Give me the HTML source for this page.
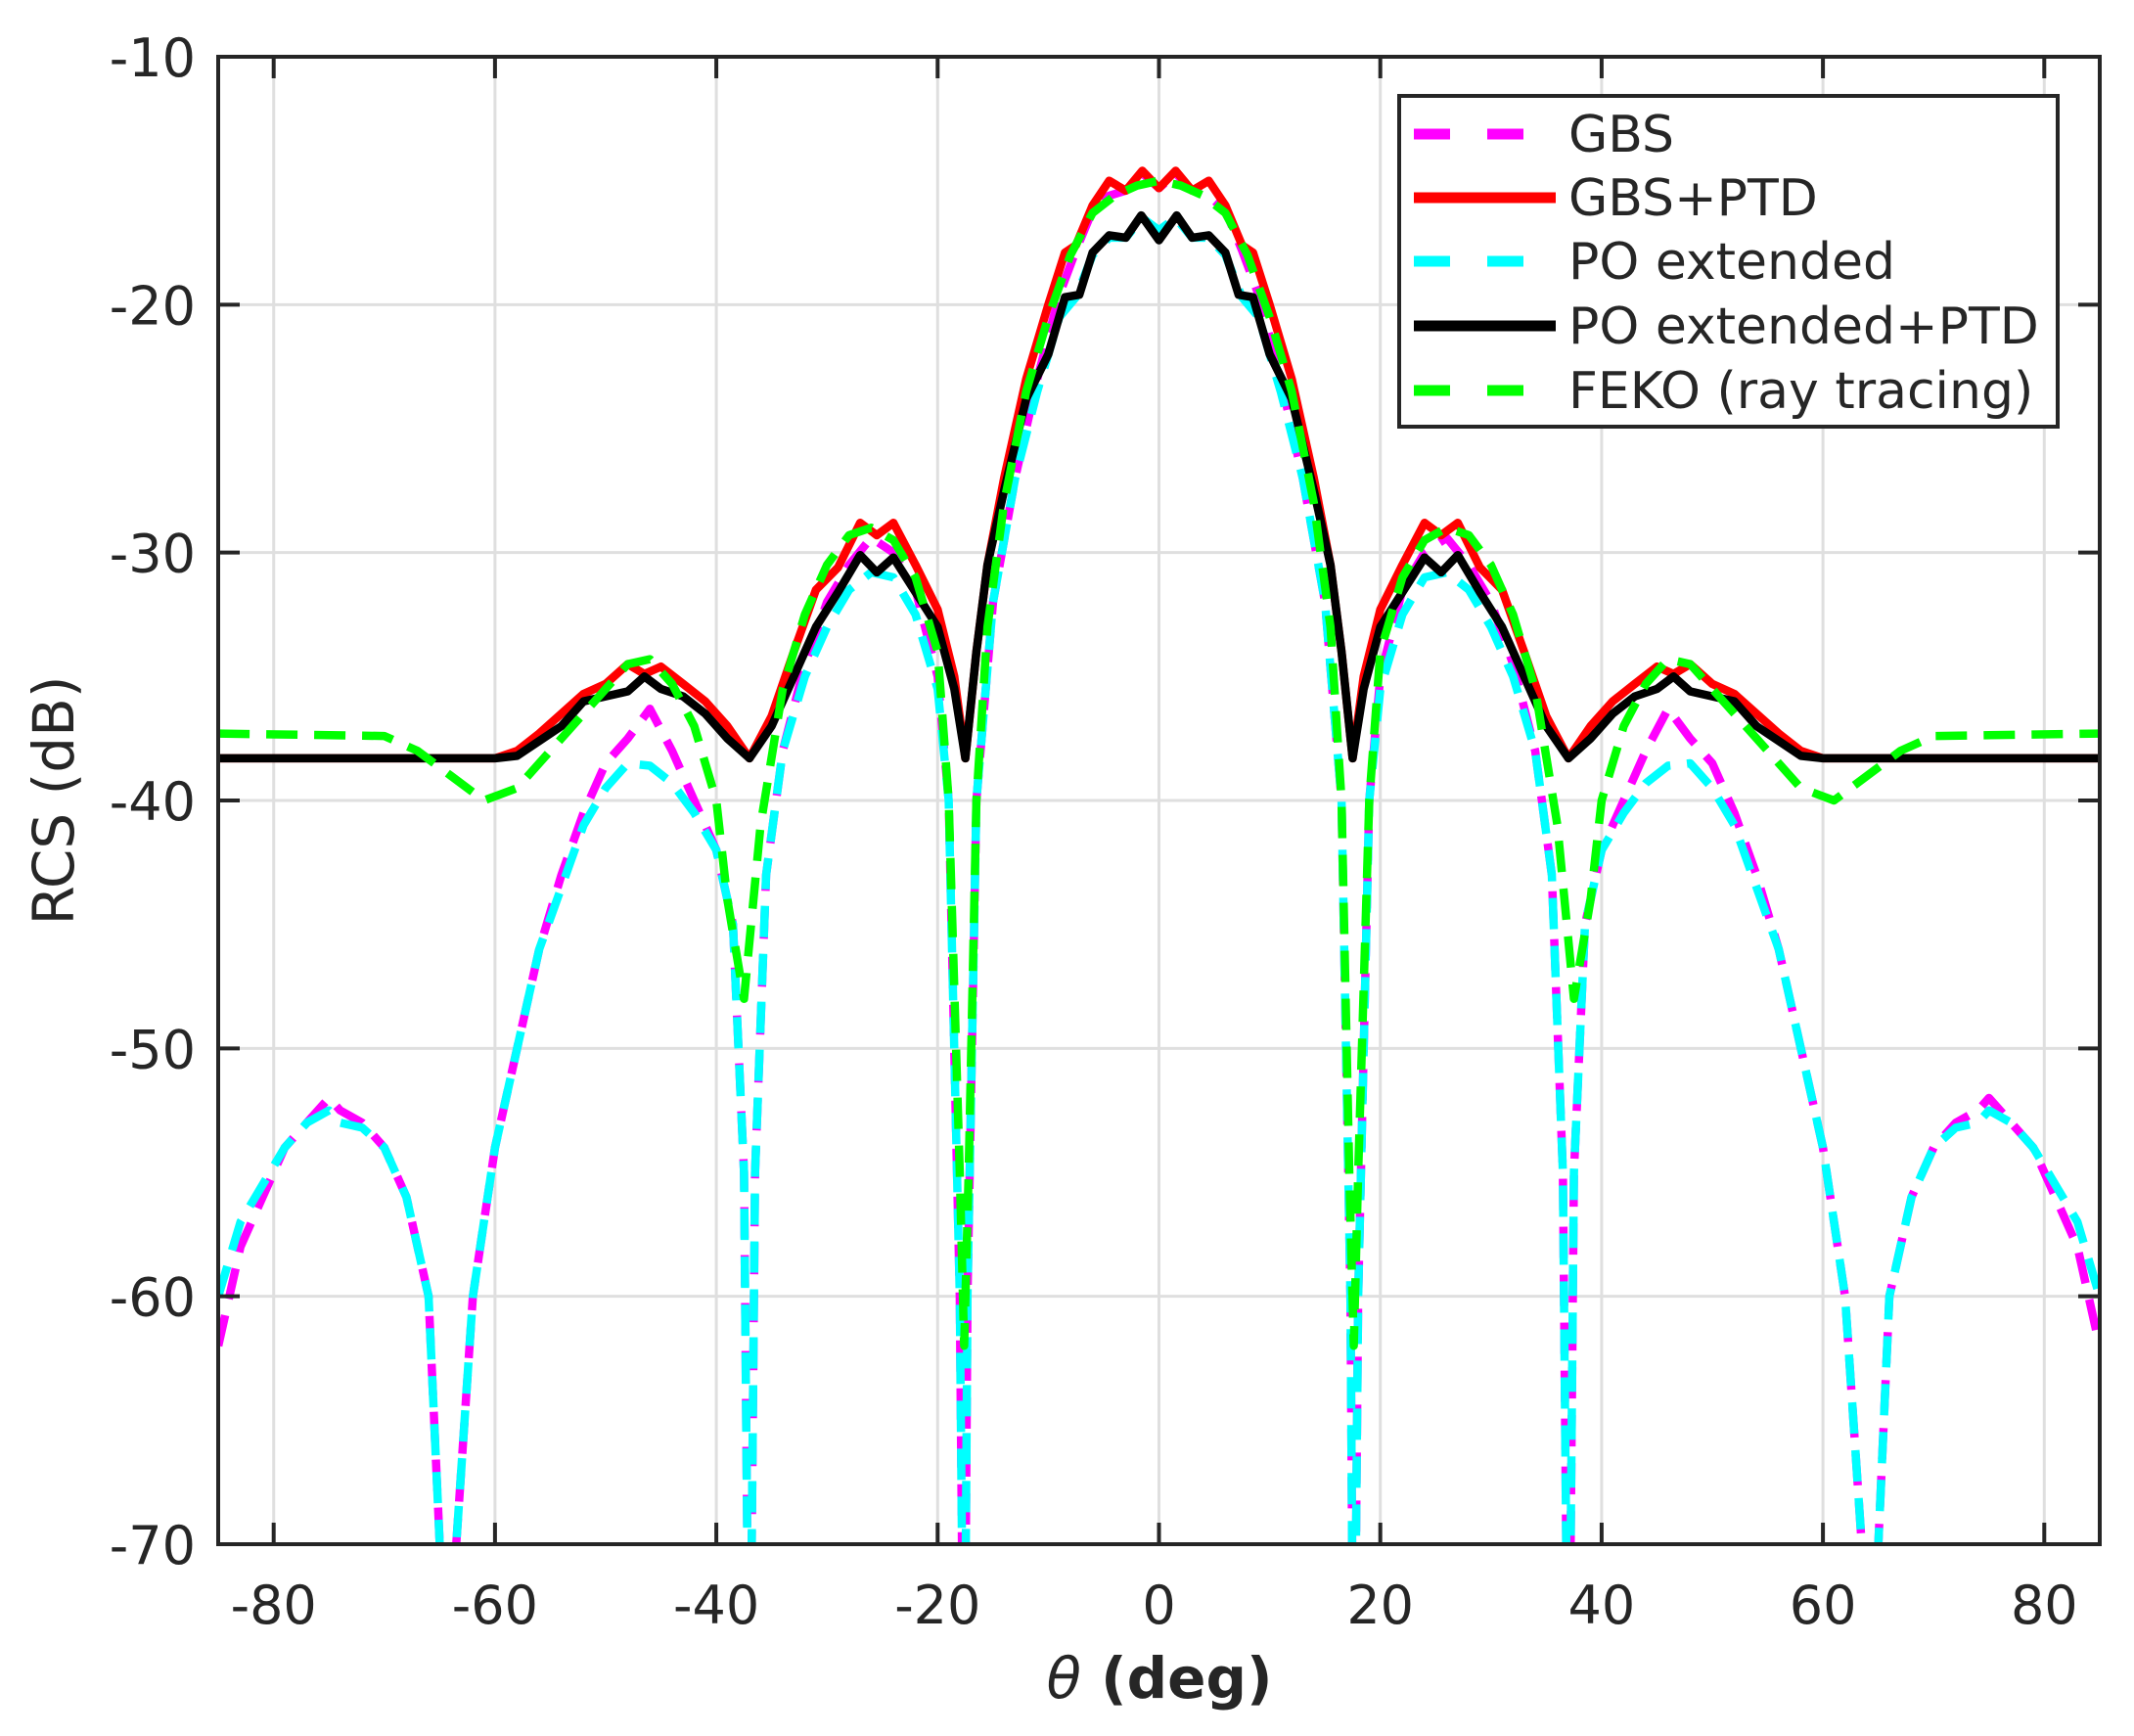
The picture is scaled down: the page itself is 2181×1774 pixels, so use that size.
<!DOCTYPE html>
<html><head><meta charset="utf-8"><style>
html,body{margin:0;padding:0;background:#fff}
svg{display:block}
text{font-family:"DejaVu Sans","Liberation Sans",sans-serif;fill:#262626}
</style></head><body>
<svg id="s" width="2181" height="1774" viewBox="0 0 2181 1774" xmlns="http://www.w3.org/2000/svg">
<defs><clipPath id="c"><rect x="223" y="58" width="1923" height="1520"/></clipPath></defs>
<rect x="0" y="0" width="2181" height="1774" fill="#fff"/>
<g id="grid" stroke="#dfdfdf" stroke-width="3"></g>
<g id="curves" clip-path="url(#c)" fill="none" stroke-linejoin="round"></g>
<rect x="223" y="58" width="1923" height="1520" fill="none" stroke="#262626" stroke-width="4"/>
<g id="ticks" stroke="#262626" stroke-width="4"></g>
<g id="labels" font-size="54"></g>
<text x="1185" y="1735" font-size="58" text-anchor="middle" font-weight="bold"><tspan font-style="italic" font-weight="normal">θ</tspan> (deg)</text>
<text transform="translate(75,818) rotate(-90)" font-size="58" text-anchor="middle">RCS (dB)</text>
<g>
<rect x="1430" y="98" width="673" height="338" fill="#fff" stroke="#262626" stroke-width="4"/>
<line x1="1445" y1="137" x2="1590" y2="137" stroke="#ff00ff" stroke-width="11" stroke-dasharray="37,38"/>
<line x1="1445" y1="202" x2="1590" y2="202" stroke="#ff0000" stroke-width="11"/>
<line x1="1445" y1="267" x2="1590" y2="267" stroke="#00ffff" stroke-width="11" stroke-dasharray="37,38"/>
<line x1="1445" y1="333" x2="1590" y2="333" stroke="#000" stroke-width="11"/>
<line x1="1445" y1="399" x2="1590" y2="399" stroke="#00ff00" stroke-width="11" stroke-dasharray="37,38"/>
<g font-size="52" fill="#000">
<text x="1603" y="155" fill="#000">GBS</text>
<text x="1603" y="220" fill="#000">GBS+PTD</text>
<text x="1603" y="285" fill="#000">PO extended</text>
<text x="1603" y="351" fill="#000">PO extended+PTD</text>
<text x="1603" y="417" fill="#000">FEKO (ray tracing)</text>
</g></g>
</svg>
<script>
var NS="http://www.w3.org/2000/svg";
function X(t){return 1184.5+t*11.31;}
function Y(d){return 58+(-10-d)*25.333;}
function el(p,n,a){var e=document.createElementNS(NS,n);for(var k in a)e.setAttribute(k,a[k]);p.appendChild(e);return e;}
var g=document.getElementById('grid'),tk=document.getElementById('ticks'),lb=document.getElementById('labels');
for(var t=-80;t<=80;t+=20){var x=X(t);el(g,'line',{x1:x,y1:58,x2:x,y2:1578});
el(tk,'line',{x1:x,y1:58,x2:x,y2:80});el(tk,'line',{x1:x,y1:1578,x2:x,y2:1556});
var tt=el(lb,'text',{x:x,y:1659,'text-anchor':'middle'});tt.textContent=t;}
for(var d=-70;d<=-10;d+=10){var y=Y(d);el(g,'line',{x1:223,y1:y,x2:2146,y2:y});
el(tk,'line',{x1:223,y1:y,x2:245,y2:y});el(tk,'line',{x1:2146,y1:y,x2:2124,y2:y});
var tt=el(lb,'text',{x:200,y:y+20,'text-anchor':'end'});tt.textContent=d;}
var red=[[0,-15.3],[1.5,-14.6],[3,-15.4],[4.5,-15],[6,-16],[7.5,-17.6],[8.5,-17.9],[10,-20],[12,-23],[14,-27],[15.5,-30.5],[16.5,-34],[17.5,-38.3],[18.5,-35],[20,-32.3],[22,-30.5],[24,-28.8],[25.5,-29.3],[27,-28.8],[29,-30.6],[31,-31.5],[33,-34],[35,-36.6],[37,-38.3],[39,-37],[41,-36],[43,-35.3],[45,-34.6],[46.5,-34.9],[48,-34.5],[50,-35.3],[52,-35.7],[54,-36.5],[56,-37.3],[58,-38],[60,-38.3],[85,-38.3]];
var blk=[[0,-17.4],[1.6,-16.4],[3,-17.3],[4.5,-17.2],[6,-17.9],[7.2,-19.6],[8.5,-19.7],[10,-22],[12,-23.8],[14,-27.5],[15.5,-30.5],[16.5,-34],[17.5,-38.3],[18.5,-35.5],[20,-33],[22,-31.6],[24,-30.2],[25.5,-30.8],[27,-30.1],[29,-31.6],[31,-33],[33,-35],[35,-37],[37,-38.3],[39,-37.5],[41,-36.5],[43,-35.8],[45,-35.5],[46.5,-35],[48,-35.6],[50,-35.8],[52,-36],[54,-37],[56,-37.6],[58,-38.2],[60,-38.3],[85,-38.3]];
var mag=[[0,-15.3],[1.5,-14.7],[3,-15.4],[4.5,-15.6],[6,-16.2],[7.5,-17.8],[9,-19.6],[11,-23],[13,-27],[15,-32],[16.5,-40],[17.3,-60],[17.6,-80],[18,-60],[19,-40],[20,-35],[22,-31.5],[24,-30],[26,-29.4],[28,-30.5],[30,-32],[32,-34.5],[34,-38],[35.5,-43],[36.5,-55],[37,-80],[37.5,-55],[38.5,-45],[40,-42],[42,-40],[44,-38],[46,-36.3],[48,-37.5],[50,-38.5],[52,-40.5],[54,-43],[56,-46],[58,-50],[60,-54],[62,-60],[63.5,-70],[64.5,-80],[65,-70],[66,-60],[68,-56],[70,-54],[72,-53],[74,-52.5],[75,-52],[77,-53],[79,-54],[81,-56],[83,-58],[85,-62]];
var cyn=[[0,-17],[1.5,-16.5],[3,-17.3],[4.5,-17.3],[6,-18],[7.5,-19.7],[9,-20.5],[11,-23.5],[13,-27],[15,-32],[16.5,-40],[17.3,-60],[17.6,-80],[18,-60],[19,-40],[20,-35.5],[22,-32.5],[24,-31],[26,-30.8],[28,-31.5],[30,-33],[32,-35],[34,-38],[35.5,-43],[36.5,-55],[37,-80],[37.5,-55],[38.5,-45],[40,-42],[42,-40.5],[44,-39.3],[46,-38.6],[48,-38.5],[50,-39.5],[52,-41],[54,-43.5],[56,-46],[58,-50],[60,-54],[62,-60],[63.5,-70],[64.5,-80],[65,-70],[66,-60],[68,-56],[70,-54],[72,-53.2],[74,-53],[75,-52.5],[77,-53],[79,-54],[81,-55.5],[83,-57],[85,-60]];
var grn=[[0,-15],[2,-15.2],[4,-15.6],[6,-16.3],[8,-18],[10,-20.5],[12,-23.5],[14,-28],[15.5,-33],[16.5,-40],[17.2,-55],[17.6,-62],[18,-55],[19,-40],[20,-34],[22,-31],[24,-29.5],[26,-29],[28,-29.3],[30,-30.5],[32,-32.5],[34,-35.5],[36,-41],[37.5,-48],[39,-44],[40,-40],[42,-37],[44,-35.3],[46,-34.3],[48,-34.5],[50,-35.5],[52,-36.5],[55,-38],[58,-39.5],[61,-40],[64,-39],[67,-38],[70,-37.4],[85,-37.3]];
function path(pts){var full=[];for(var i=pts.length-1;i>0;i--)full.push([-pts[i][0],pts[i][1]]);for(var i=0;i<pts.length;i++)full.push(pts[i]);
var s='';for(var i=0;i<full.length;i++){var d=Math.max(full[i][1],-90);s+=(i?'L':'M')+X(full[i][0]).toFixed(1)+','+Y(d).toFixed(1);}return s;}
var cv=document.getElementById('curves');
el(cv,'path',{d:path(mag),stroke:'#ff00ff','stroke-width':8.5,'stroke-dasharray':'32,17'});
el(cv,'path',{d:path(cyn),stroke:'#00ffff','stroke-width':8.5,'stroke-dasharray':'32,17'});
el(cv,'path',{d:path(red),stroke:'#ff0000','stroke-width':8.5});
el(cv,'path',{d:path(blk),stroke:'#000000','stroke-width':8.5});
el(cv,'path',{d:path(grn),stroke:'#00ff00','stroke-width':8.5,'stroke-dasharray':'32,17'});
</script>
</body></html>
